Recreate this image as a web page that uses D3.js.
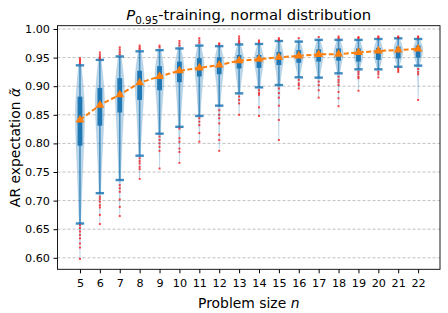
<!DOCTYPE html>
<meta charset="utf-8">
<style>
body { margin: 0; background: #fff; }
text { font-family: "DejaVu Sans", sans-serif; fill: #000; }
.grid line { stroke: #b0b0b0; stroke-dasharray: 3,2; stroke-width: 0.8; }
.axis text { font-size: 11.2px; }
</style>
<body>
<svg width="448" height="313"></svg>
</body>
<script src="https://d3js.org/d3.v7.min.js"></script>
<script>
// problem sizes
const sizes = [5, 6, 7, 8, 9, 10, 11, 12, 13, 14, 15, 16, 17, 18, 19, 20, 21, 22]

// box stats
const whiskerLow = [0.660, 0.713, 0.736, 0.7785, 0.817, 0.829, 0.848, 0.866, 0.8875, 0.898, 0.902, 0.9155, 0.915, 0.9225, 0.9295, 0.9295, 0.934, 0.936]
const q1 = [0.796, 0.831, 0.854, 0.876, 0.893, 0.907, 0.917, 0.921, 0.931, 0.932, 0.937, 0.941, 0.943, 0.9446, 0.943, 0.946, 0.9487, 0.950]
const medians = [0.842, 0.866, 0.886, 0.904, 0.916, 0.927, 0.934, 0.937, 0.944, 0.945, 0.950, 0.953, 0.955, 0.957, 0.957, 0.959, 0.961, 0.963]
const q3 = [0.8817, 0.897, 0.914, 0.927, 0.935, 0.943, 0.949, 0.9505, 0.9545, 0.9545, 0.960, 0.963, 0.9645, 0.966, 0.966, 0.967, 0.969, 0.971]
const whiskerHigh = [0.9365, 0.946, 0.952, 0.961, 0.963, 0.966, 0.971, 0.970, 0.973, 0.9738, 0.979, 0.978, 0.981, 0.981, 0.981, 0.9825, 0.9837, 0.9825]
const means = [0.841, 0.867, 0.885, 0.906, 0.917, 0.927, 0.932, 0.937, 0.9446, 0.947, 0.9505, 0.953, 0.9557, 0.956, 0.959, 0.9615, 0.9633, 0.965]

// outliers per size
const outliers = [
  [0.657, 0.652, 0.646, 0.640, 0.634, 0.625, 0.618, 0.598, 0.940, 0.943, 0.946, 0.949],
  [0.707, 0.703, 0.698, 0.692, 0.688, 0.675, 0.659, 0.948, 0.951, 0.955, 0.959],
  [0.727, 0.7215, 0.7155, 0.702, 0.689, 0.673, 0.956, 0.960, 0.964, 0.968],
  [0.774, 0.769, 0.765, 0.759, 0.755, 0.738, 0.965, 0.968, 0.971],
  [0.812, 0.806, 0.800, 0.794, 0.787, 0.756, 0.968, 0.971],
  [0.826, 0.809, 0.803, 0.791, 0.785, 0.766, 0.971, 0.975, 0.979],
  [0.844, 0.838, 0.832, 0.818, 0.803, 0.976, 0.980, 0.984],
  [0.858, 0.850, 0.844, 0.835, 0.815, 0.806, 0.787, 0.973, 0.975],
  [0.882, 0.876, 0.870, 0.850, 0.976, 0.979, 0.983, 0.987],
  [0.893, 0.888, 0.885, 0.863, 0.848, 0.977, 0.980],
  [0.896, 0.888, 0.880, 0.866, 0.841, 0.806, 0.981, 0.984],
  [0.911, 0.905, 0.902, 0.896, 0.984],
  [0.908, 0.902, 0.893, 0.880, 0.986],
  [0.9166, 0.911, 0.907, 0.902, 0.890, 0.879, 0.865, 0.984, 0.987],
  [0.925, 0.921, 0.9166, 0.914, 0.892, 0.984, 0.986],
  [0.925, 0.921, 0.9155, 0.985, 0.987],
  [0.931, 0.928, 0.925, 0.985, 0.987],
  [0.930, 0.925, 0.921, 0.876, 0.985, 0.987]
]

const yTicks = [0.60, 0.65, 0.70, 0.75, 0.80, 0.85, 0.90, 0.95, 1.00]

const blue = "#1f77b4", orange = "#ff7f0e"
const svg = d3.select("svg")
const plotL = 57.5, plotR = 440, plotT = 25.7, plotB = 269.3

const x = d3.scaleLinear().domain([3.87, 23.1]).range([plotL, plotR])
const y = d3.scaleLinear().domain([0.5799, 1.00577]).range([plotB, plotT])

// grid
svg.append("g").attr("class", "grid")
  .selectAll("line").data(yTicks).enter().append("line")
  .attr("x1", plotL).attr("x2", plotR)
  .attr("y1", d => y(d)).attr("y2", d => y(d))

// violins, shape built from the box stats
const halfW = x(0.25) - x(0)
const area = d3.area()
  .y(d => y(d.v))
  .x0(d => d.cx - halfW * d.r)
  .x1(d => d.cx + halfW * d.r)
  .curve(d3.curveBasis)

sizes.forEach((n, i) => {
  const cx = x(n)
  const lo = d3.min(outliers[i].concat([whiskerLow[i]]))
  const hi = d3.max(outliers[i].concat([whiskerHigh[i]]))
  const prof = [
    {v: lo, r: 0}, {v: lo, r: 0.02},
    {v: whiskerLow[i], r: 0.12},
    {v: q1[i], r: 0.75},
    {v: medians[i], r: 1},
    {v: q3[i], r: 0.85},
    {v: whiskerHigh[i], r: 0.3},
    {v: hi, r: 0.02}, {v: hi, r: 0}
  ].map(p => ({v: p.v, r: p.r, cx}))
  svg.append("path").attr("d", area(prof))
    .attr("fill", blue).attr("fill-opacity", 0.3)
    .attr("stroke", blue).attr("stroke-opacity", 0.12).attr("stroke-width", 1)
})

// whiskers, boxes, caps
const g = svg.append("g")
sizes.forEach((n, i) => {
  const cx = x(n)
  g.append("line").attr("x1", cx).attr("x2", cx)
    .attr("y1", y(whiskerLow[i])).attr("y2", y(whiskerHigh[i]))
    .attr("stroke", blue).attr("stroke-width", 1.6).attr("stroke-opacity", 0.75)
  g.append("rect").attr("x", cx - 2.4).attr("width", 4.8)
    .attr("y", y(q3[i])).attr("height", y(q1[i]) - y(q3[i]))
    .attr("fill", blue)
  ;[whiskerLow[i], whiskerHigh[i]].forEach(v => {
    g.append("line").attr("x1", cx - 4.2).attr("x2", cx + 4.2)
      .attr("y1", y(v)).attr("y2", y(v))
      .attr("stroke", blue).attr("stroke-width", 2.4).attr("stroke-opacity", 0.85)
  })
  g.selectAll(null).data(outliers[i]).enter().append("rect")
    .attr("x", cx - 1).attr("y", d => y(d) - 1)
    .attr("width", 2).attr("height", 2)
    .attr("fill", "red").attr("fill-opacity", 0.7)
})

// mean line
svg.append("path")
  .datum(sizes.map((n, i) => [n, means[i]]))
  .attr("d", d3.line().x(d => x(d[0])).y(d => y(d[1])))
  .attr("fill", "none").attr("stroke", orange)
  .attr("stroke-width", 2).attr("stroke-dasharray", "5,2.5")

svg.append("g").selectAll("path")
  .data(sizes.map((n, i) => [n, means[i]]))
  .enter().append("path")
  .attr("d", d3.symbol(d3.symbolTriangle, 34))
  .attr("transform", d => `translate(${x(d[0])},${y(d[1])})`)
  .attr("fill", orange)

// frame
svg.append("rect").attr("x", plotL).attr("y", plotT)
  .attr("width", plotR - plotL).attr("height", plotB - plotT)
  .attr("fill", "none").attr("stroke", "#000").attr("stroke-width", 0.9)

// axes
svg.append("g").attr("class", "axis")
  .attr("transform", `translate(${plotL},0)`)
  .call(d3.axisLeft(y).tickValues(yTicks).tickFormat(d3.format(".2f")).tickSize(4).tickPadding(3.5))
svg.append("g").attr("class", "axis")
  .attr("transform", `translate(0,${plotB})`)
  .call(d3.axisBottom(x).tickValues(sizes).tickFormat(d3.format("d")).tickSize(4).tickPadding(6))
svg.selectAll(".axis .domain").remove()
svg.selectAll(".axis text").attr("fill", "#000")

// labels
const title = svg.append("text").attr("x", (plotL + plotR) / 2).attr("y", 20)
  .attr("text-anchor", "middle").style("font-size", "14.8px")
title.append("tspan").attr("font-style", "italic").text("P")
title.append("tspan").attr("dy", 3.5).style("font-size", "10.3px").text("0.95")
title.append("tspan").attr("dy", -3.5).text("-training, normal distribution")

const xl = svg.append("text").attr("x", (plotL + plotR) / 2).attr("y", 308)
  .attr("text-anchor", "middle").style("font-size", "13.9px")
xl.append("tspan").text("Problem size ")
xl.append("tspan").attr("font-style", "italic").text("n")

const yl = svg.append("text").attr("transform", `translate(20,${(plotT + plotB) / 2}) rotate(-90)`)
  .attr("text-anchor", "middle").style("font-size", "13.9px")
yl.append("tspan").text("AR expectation ")
yl.append("tspan").attr("font-style", "italic").text("α\u0303")
</script>
